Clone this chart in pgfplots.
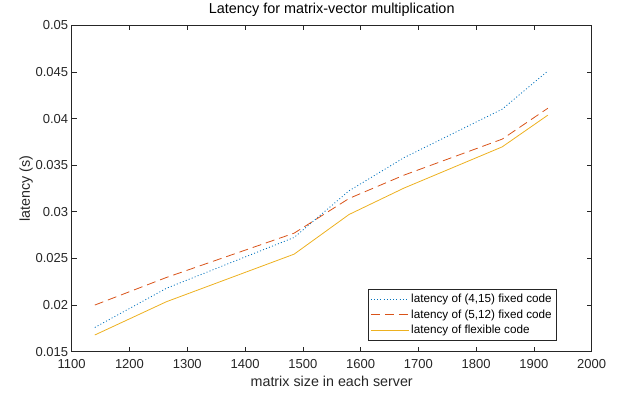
\documentclass[border=0pt]{standalone}
\usepackage{fontspec}
\setmainfont{Liberation Sans}
\usepackage{pgfplots}
\pgfplotsset{compat=1.18}
\definecolor{mblue}{rgb}{0,0.447,0.741}
\definecolor{mred}{rgb}{0.85,0.325,0.098}
\definecolor{myellow}{rgb}{0.929,0.694,0.125}
\definecolor{mgray}{rgb}{0.15,0.15,0.15}
\begin{document}
\begin{tikzpicture}
\begin{axis}[name=ax, scale only axis, width=520pt, height=326.4pt,
  xmin=1100, xmax=2000, ymin=0.015, ymax=0.05,
  xtick={1100,1200,1300,1400,1500,1600,1700,1800,1900,2000},
  ytick={0.015,0.02,0.025,0.03,0.035,0.04,0.045,0.05},
  yticklabels={0.015,0.02,0.025,0.03,0.035,0.04,0.045,0.05},
  scaled y ticks=false, scaled x ticks=false,
  /pgf/number format/assume math mode=true,
  /pgf/number format/1000 sep={},
  tick align=inside, tick pos=both, major tick length=5pt,
  axis line style={color=mgray, line width=0.6pt},
  every tick/.style={mgray, line width=0.6pt},
  ticklabel style={font=\fontsize{13}{15}\selectfont, color=mgray},
  xticklabel style={yshift=-4pt},
  title={Latency for matrix-vector multiplication},
  title style={font=\fontsize{14.4}{16}\selectfont, color=black, yshift=-1pt},
  xlabel={matrix size in each server},
  ylabel={latency (s)},
  label style={font=\fontsize{14.3}{16}\selectfont, color=mgray},
  xlabel style={yshift=-1pt},
  ylabel style={yshift=-4pt},
  legend style={at={(0.9323,0.035)}, anchor=south east, draw=mgray, line width=0.6pt,
    font=\fontsize{11.7}{13}\selectfont, row sep=1.8pt, inner sep=2.5pt,
    /tikz/every even column/.append style={column sep=2pt}},
  legend cell align=left,
  legend image code/.code={\draw[#1, line width=0.8pt] (0pt,0pt) -- (38pt,0pt);},
]
\addplot[mblue, line width=0.8pt, dash pattern=on 1pt off 2.2pt] coordinates {
(1140,0.0176) (1264,0.0218) (1485,0.02725) (1580,0.03225) (1675,0.0358) (1845,0.0410) (1924,0.0451)};
\addlegendentry{latency of (4,15) fixed code}
\addplot[mred, line width=0.8pt, dash pattern=on 9pt off 5pt] coordinates {
(1140,0.0200) (1264,0.02296) (1485,0.02771) (1580,0.03143) (1675,0.03393) (1845,0.03779) (1924,0.0411)};
\addlegendentry{latency of (5,12) fixed code}
\addplot[myellow, line width=0.8pt] coordinates {
(1140,0.01679) (1264,0.02036) (1485,0.02546) (1580,0.02971) (1675,0.03254) (1845,0.03696) (1924,0.04036)};
\addlegendentry{latency of flexible code}
\end{axis}
\path (ax.south west) ++(-71.7pt,-46.3pt) coordinate (bl);
\path (ax.north east) ++(34.3pt,24.3pt) coordinate (tr);
\useasboundingbox (bl) rectangle (tr);
\end{tikzpicture}
\end{document}
